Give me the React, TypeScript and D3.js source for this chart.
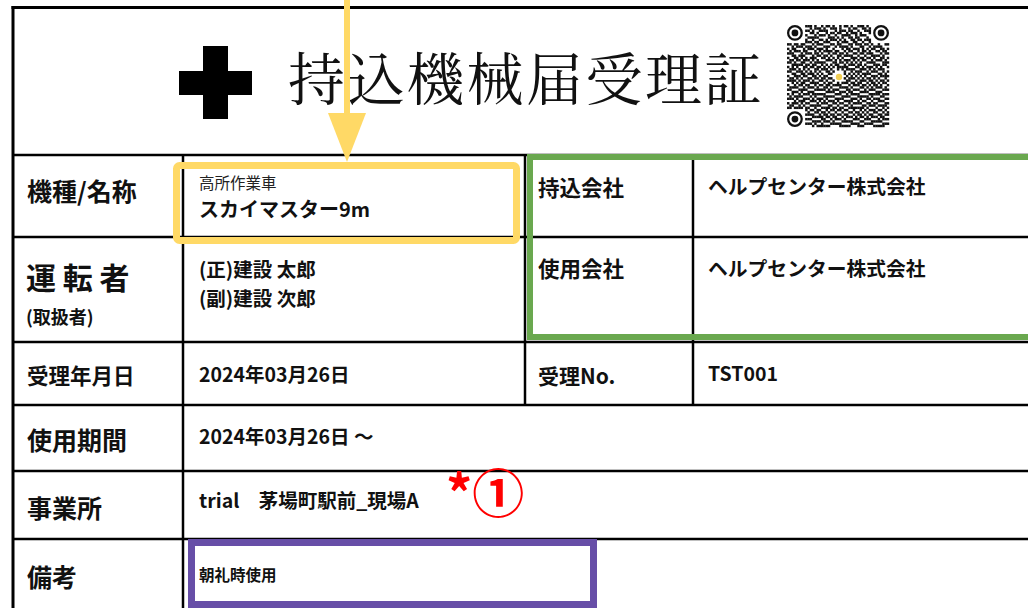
import React from 'react';
import * as d3 from 'd3';

// ---- content ----
const title = '持込機械届受理証';
const rowLabels = ['機種/名称', '運 転 者', '受理年月日', '使用期間', '事業所', '備考'];
const subLabel = '(取扱者)';
const machineType = '高所作業車';
const machineName = 'スカイマスター9m';
const operators = ['(正)建設 太郎', '(副)建設 次郎'];
const receiptDate = '2024年03月26日';
const usePeriod = '2024年03月26日 ～';
const office = 'trial　茅場町駅前_現場A';
const remarks = '朝礼時使用';
const rightLabels = ['持込会社', '使用会社', '受理No.'];
const rightValues = ['ヘルプセンター株式会社', 'ヘルプセンター株式会社', 'TST001'];
const note = '*①';

// QR module pattern (45 x 45); finder corners are drawn separately
const QR_ROWS = [
  '10110 10011 10100 10110 10010 11010 01110 10010 11010',
  '01101 11000 10111 01001 11010 00101 10011 01101 00101',
  '11010 01011 01001 11100 01011 10110 01001 11010 11001',
  '00111 10100 11010 00101 10110 01011 10100 01111 01010',
  '11001 01110 00101 11010 01001 11100 10111 00100 11101',
  '01010 11001 11110 00011 10101 00110 11000 10110 00110',
  '10111 00110 01001 10101 11010 10011 01101 11001 10101',
  '01100 10011 10110 01110 00101 11001 10010 01011 01110',
  '11011 01100 01011 10001 10110 00110 11101 10100 10011',
  '00101 11011 10100 01110 01011 11010 00110 01011 11000',
  '10110 00101 11011 10100 10001 01101 11010 10110 01101',
  '01011 10110 00101 01111 01100 10110 01011 01001 10110',
  '11100 01011 10110 10010 11011 01001 10110 11100 01011',
  '00110 11100 01011 01101 00110 11110 01001 00111 10100',
  '10011 01010 11100 11010 10101 00011 10110 11010 01101',
  '01101 10111 01010 00111 01010 11101 01011 00101 11010',
  '11010 01100 10111 11000 11011 01010 10100 11110 00111',
  '00111 11011 01100 10101 01100 10111 01101 00011 10110',
  '10101 00110 11011 01010 10111 11000 11010 11101 01001',
  '01110 10101 00110 11101 00101 01111 00111 01010 11100',
  '11001 11010 10101 00110 11110 10010 11100 10111 00101',
  '00110 01101 11010 10011 01001 10101 01011 11000 11010',
  '10011 10110 01101 01100 10110 01010 10101 00111 01111',
  '01101 01001 10110 11011 01011 10111 01010 11010 10010',
  '11110 10111 01001 10100 11010 01100 10111 01101 01101',
  '00101 01100 11110 01011 00101 11011 01100 10110 10110',
  '10010 11011 00101 10110 11110 00101 11011 01011 01001',
  '01111 00101 11010 01101 00011 11010 00110 10101 11010',
  '11000 11110 00111 11010 11100 01101 11001 01110 00111',
  '00111 01001 11000 00111 10011 10110 00111 10001 11000',
  '10100 10111 01111 11000 01110 01011 11000 01111 10111',
  '01011 11000 10100 01111 10001 11100 01111 10100 01100',
  '11101 00111 01011 10100 01111 00011 10100 11011 10011',
  '00010 11100 11101 01011 10100 11110 01011 00100 11100',
  '10111 01011 00010 11100 11011 00101 11100 11011 00011',
  '01100 10100 11111 00011 00100 11010 00011 01110 11110',
  '11011 11011 00100 11110 11011 00111 11110 10001 00101',
  '00100 00110 11011 00101 10110 11001 00101 01110 11010',
  '11011 11001 00110 11010 01001 00110 11010 10011 00101',
  '01101 00111 11001 01101 10110 11001 01101 01100 11011',
  '10010 11000 01111 10110 11001 01110 10110 10111 01100',
  '01111 01111 10000 11001 01110 10001 11001 11000 10111',
  '10100 10100 01111 01110 10001 11110 00110 00111 11000',
  '11011 01011 10100 10001 11110 00011 11001 11100 00111',
  '01100 11100 01011 11110 00011 11100 01110 00011 11100',
];

const W = 1028;
const H = 608;
const FONT = '"Noto Sans CJK JP", "Noto Sans", sans-serif';
const SERIF = '"Noto Serif CJK JP", "Noto Sans CJK JP", serif';

// row boundaries
const rowY = [7, 155, 237, 342, 405, 471, 539, 608];
const colX = { left: 13, c1: 183, c2: 525, c3: 693 };

export default function App() {
  const qrX = 787, qrY = 25, qrSize = 102;
  const grid = QR_ROWS.map((r) => r.replace(/\s/g, ''));
  const n = grid.length;
  const m = d3.scaleLinear().domain([0, n]).range([0, qrSize]);
  const inFinder = (r: number, c: number) =>
    (r < 8 && c < 8) || (r < 8 && c >= n - 8) || (r >= n - 8 && c < 8);
  const cx = n / 2, cy = n / 2;
  const cells: { x: number; y: number }[] = [];
  grid.forEach((row, r) => {
    row.split('').forEach((ch, c) => {
      const nearLogo = Math.hypot(c + 0.5 - cx, r + 0.5 - cy) < 2.6;
      if (ch === '1' && !inFinder(r, c) && !nearLogo) cells.push({ x: c, y: r });
    });
  });
  const finders = [
    { x: 0, y: 0 },
    { x: n - 7, y: 0 },
    { x: 0, y: n - 7 },
  ];

  const labelStyle = { fontFamily: FONT, fontWeight: 700, fill: '#111' } as const;

  return (
    <svg
      width={W}
      height={H}
      style={{ position: 'absolute', left: 0, top: 0, background: '#fff' }}
    >
      <rect x={0} y={0} width={W} height={H} fill="#fff" />

      {/* outer border */}
      <line x1={colX.left} x2={colX.left} y1={6} y2={H} stroke="#000" strokeWidth={3} />
      <line x1={colX.left - 1.5} x2={W} y1={7.5} y2={7.5} stroke="#000" strokeWidth={3} />

      {/* horizontal rules */}
      {rowY.slice(1, -1).map((y) => (
        <line key={y} x1={colX.left} x2={W} y1={y} y2={y} stroke="#000" strokeWidth={2.5} />
      ))}
      {/* vertical rules */}
      <line x1={colX.c1} x2={colX.c1} y1={rowY[1]} y2={H} stroke="#000" strokeWidth={2.5} />
      <line x1={colX.c2} x2={colX.c2} y1={rowY[1]} y2={rowY[4]} stroke="#000" strokeWidth={2.5} />
      <line x1={colX.c3} x2={colX.c3} y1={rowY[1]} y2={rowY[4]} stroke="#000" strokeWidth={2.5} />

      {/* header */}
      <rect x={203} y={46} width={25} height={73} fill="#000" />
      <rect x={179} y={71} width={73} height={24} fill="#000" />
      <text x={288} y={100} fontFamily={SERIF} fontSize={57} letterSpacing={2.5} fill="#111">
        {title}
      </text>

      {/* QR */}
      <g transform={`translate(${qrX},${qrY})`}>
        {cells.map((d, i) => (
          <rect key={i} x={m(d.x)} y={m(d.y)} width={m(1) + 0.2} height={m(1) + 0.2} fill="#111" />
        ))}
        {finders.map((f, i) => (
          <g key={'f' + i}>
            <circle
              cx={m(f.x + 3.5)}
              cy={m(f.y + 3.5)}
              r={m(3)}
              fill="none"
              stroke="#111"
              strokeWidth={m(1)}
            />
            <circle cx={m(f.x + 3.5)} cy={m(f.y + 3.5)} r={m(1.5)} fill="#111" />
          </g>
        ))}
        <circle cx={m(cx) + 1} cy={m(cy) + 1} r={3.2} fill="#f2cf55" />
      </g>

      {/* left labels */}
      <text x={27} y={201} fontSize={25} {...labelStyle}>{rowLabels[0]}</text>
      <text x={26} y={289} fontSize={30} {...labelStyle}>{rowLabels[1]}</text>
      <text x={26} y={324} fontSize={18} {...labelStyle}>{subLabel}</text>
      <text x={27} y={384} fontSize={21.5} {...labelStyle}>{rowLabels[2]}</text>
      <text x={27} y={450} fontSize={25} {...labelStyle}>{rowLabels[3]}</text>
      <text x={27} y={518} fontSize={25} {...labelStyle}>{rowLabels[4]}</text>
      <text x={27} y={587} fontSize={25} {...labelStyle}>{rowLabels[5]}</text>

      {/* values */}
      <text x={199} y={189} fontSize={15.5} fontFamily={FONT} fill="#222">{machineType}</text>
      <text x={199} y={217} fontSize={20} {...labelStyle}>{machineName}</text>
      <text x={199} y={277} fontSize={19.5} {...labelStyle}>{operators[0]}</text>
      <text x={199} y={306} fontSize={19.5} {...labelStyle}>{operators[1]}</text>
      <text x={199} y={382} fontSize={19.5} {...labelStyle}>{receiptDate}</text>
      <text x={199} y={444} fontSize={19.5} {...labelStyle}>{usePeriod}</text>
      <text x={199} y={508} fontSize={19.5} {...labelStyle}>{office}</text>
      <text x={199} y={581} fontSize={15.5} {...labelStyle}>{remarks}</text>

      {/* right side */}
      <text x={538} y={196} fontSize={21.5} {...labelStyle}>{rightLabels[0]}</text>
      <text x={538} y={277} fontSize={21.5} {...labelStyle}>{rightLabels[1]}</text>
      <text x={538} y={384} fontSize={21} {...labelStyle}>{rightLabels[2]}</text>
      <text x={708} y={194} fontSize={19.8} {...labelStyle}>{rightValues[0]}</text>
      <text x={708} y={276} fontSize={19.8} {...labelStyle}>{rightValues[1]}</text>
      <text x={708} y={381} fontSize={19.5} {...labelStyle}>{rightValues[2]}</text>

      {/* note */}
      <text x={446} y={513} fontSize={52} fontFamily={FONT} fontWeight={700} fill="#ff0000">{note}</text>

      {/* highlight boxes */}
      <rect x={530} y={157} width={540} height={180} fill="none" stroke="#6aa84f" strokeWidth={6} />
      <rect x={176.5} y={165.5} width={340} height={75} rx={3} fill="none" stroke="#ffd966" strokeWidth={7} />
      <rect x={191.5} y={542.5} width={402} height={62} fill="none" stroke="#674ea7" strokeWidth={7} />

      {/* arrow */}
      <line x1={347} x2={347} y1={0} y2={116} stroke="#ffd966" strokeWidth={6} />
      <path d="M328,113 L366,113 L347,162 Z" fill="#ffd966" />
    </svg>
  );
}
